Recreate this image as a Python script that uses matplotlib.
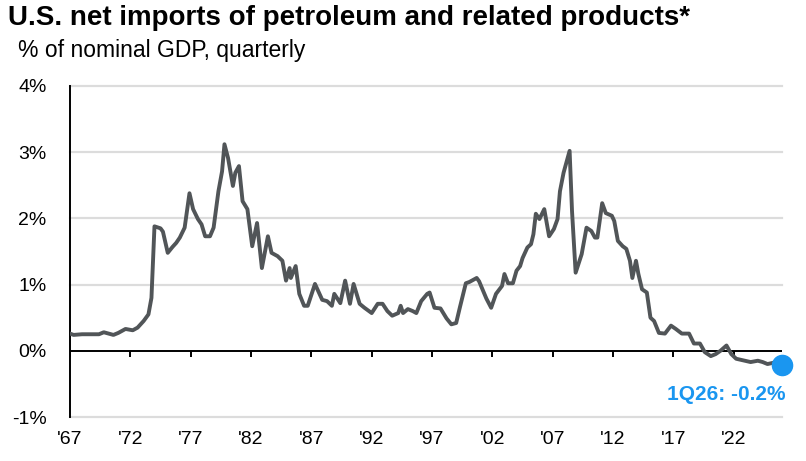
import matplotlib
matplotlib.use("Agg")
import matplotlib.pyplot as plt
import numpy as np

plt.rcParams['font.family'] = ['Liberation Sans', 'DejaVu Sans']

# ---- data (decimal year, % of nominal GDP) ----
years = [1967.0, 1967.3, 1968.0, 1968.8, 1969.4, 1969.8, 1970.2, 1970.6, 1971.0, 1971.6,
         1972.2, 1972.6, 1973.1, 1973.5, 1973.75, 1974.0, 1974.5, 1974.7, 1975.1, 1975.5,
         1975.8, 1976.1, 1976.5, 1976.9, 1977.2, 1977.6, 1977.9, 1978.2, 1978.6, 1978.9,
         1979.3, 1979.6, 1979.8, 1980.1, 1980.5, 1980.7, 1981.0, 1981.3, 1981.7, 1982.1,
         1982.5, 1982.9, 1983.4, 1983.7, 1984.2, 1984.6, 1984.9, 1985.2, 1985.3, 1985.7,
         1986.0, 1986.4, 1986.7, 1987.3, 1987.9, 1988.3, 1988.7, 1988.9, 1989.4, 1989.8,
         1990.2, 1990.5, 1991.0, 1991.4, 1992.0, 1992.5, 1992.9, 1993.3, 1993.7, 1994.2,
         1994.4, 1994.6, 1995.0, 1995.4, 1995.7, 1996.1, 1996.6, 1996.8, 1997.2, 1997.7,
         1998.2, 1998.6, 1999.0, 1999.3, 1999.8, 2000.1, 2000.7, 2000.9, 2001.5, 2001.9,
         2002.3, 2002.8, 2003.0, 2003.3, 2003.7, 2004.0, 2004.3, 2004.5, 2004.9, 2005.2,
         2005.4, 2005.6, 2005.9, 2006.3, 2006.7, 2007.1, 2007.4, 2007.6, 2007.9, 2008.4,
         2008.6, 2008.9, 2009.4, 2009.8, 2010.2, 2010.5, 2010.7, 2011.1, 2011.4, 2011.9,
         2012.1, 2012.4, 2012.8, 2013.1, 2013.4, 2013.6, 2013.9, 2014.1, 2014.4, 2014.8,
         2015.1, 2015.4, 2015.8, 2016.3, 2016.8, 2017.2, 2017.7, 2018.3, 2018.7, 2019.2,
         2019.6, 2020.1, 2020.5, 2020.9, 2021.4, 2021.8, 2022.2, 2022.9, 2023.4, 2024.0,
         2024.4, 2024.8, 2025.3, 2026.0]
pct = [0.26, 0.24, 0.25, 0.25, 0.25, 0.28, 0.26, 0.24, 0.27, 0.33,
       0.31, 0.35, 0.45, 0.55, 0.80, 1.88, 1.85, 1.80, 1.48, 1.57,
       1.63, 1.71, 1.86, 2.38, 2.14, 1.99, 1.91, 1.73, 1.73, 1.86,
       2.41, 2.71, 3.12, 2.91, 2.49, 2.69, 2.79, 2.26, 2.14, 1.58,
       1.93, 1.25, 1.73, 1.48, 1.43, 1.36, 1.06, 1.25, 1.10, 1.28,
       0.86, 0.68, 0.68, 1.01, 0.77, 0.75, 0.68, 0.86, 0.72, 1.06,
       0.71, 1.01, 0.71, 0.65, 0.57, 0.71, 0.71, 0.60, 0.53, 0.57,
       0.68, 0.57, 0.63, 0.60, 0.57, 0.75, 0.86, 0.88, 0.65, 0.64,
       0.49, 0.40, 0.42, 0.65, 1.02, 1.04, 1.10, 1.05, 0.79, 0.65,
       0.86, 0.98, 1.16, 1.02, 1.02, 1.21, 1.28, 1.40, 1.56, 1.61,
       1.76, 2.07, 1.99, 2.14, 1.73, 1.84, 1.99, 2.41, 2.69, 3.02,
       2.11, 1.18, 1.46, 1.86, 1.81, 1.71, 1.71, 2.23, 2.08, 2.04,
       1.96, 1.66, 1.58, 1.54, 1.36, 1.10, 1.36, 1.16, 0.93, 0.88,
       0.50, 0.45, 0.27, 0.26, 0.38, 0.33, 0.26, 0.26, 0.11, 0.11,
       -0.02, -0.08, -0.05, 0.00, 0.08, -0.05, -0.12, -0.15, -0.17, -0.15,
       -0.17, -0.20, -0.18, -0.22]
tick_years = [1967, 1972, 1977, 1982, 1987, 1992, 1997, 2002, 2007, 2012, 2017, 2022]
tick_labels = ["'67", "'72", "'77", "'82", "'87", "'92", "'97", "'02", "'07", "'12", "'17", "'22"]
y_ticks = [-1, 0, 1, 2, 3, 4]
y_labels = ["-1%", "0%", "1%", "2%", "3%", "4%"]
last_label = "1Q26: -0.2%"

title = "U.S. net imports of petroleum and related products*"
subtitle = "% of nominal GDP, quarterly"

W, H = 806, 461
fig = plt.figure(figsize=(W / 100, H / 100), dpi=100)
ax = fig.add_axes([70 / W, 1 - 417 / H, (782 - 70) / W, (417 - 86) / H])

line_col = '#515558'
blue = '#1a96f0'

for y in [-1, 1, 2, 3, 4]:
    ax.axhline(y, color='#dcdcdc', lw=1.6, zorder=0, clip_on=False)
ax.axhline(0, color='black', lw=1.4, zorder=1)
ax.vlines(tick_years, -0.1, 0, color='black', lw=1.4, zorder=1)

ax.plot(years, pct, color=line_col, lw=2.8, solid_joinstyle='round', zorder=3)
ax.plot([years[-1]], [pct[-1]], 'o', color=blue, ms=14.5, zorder=4, clip_on=False)
ax.text(2026.25, -0.66, last_label, color=blue, fontsize=15, fontweight='bold',
        ha='right', va='center')

ax.set_xlim(1967, 2026)
ax.set_ylim(-1, 4)
ax.set_xticks(tick_years)
ax.set_xticklabels(tick_labels)
ax.set_yticks(y_ticks)
ax.set_yticklabels(y_labels)
ax.tick_params(axis='both', length=0, labelsize=14, colors='black')
ax.tick_params(axis='x', pad=10)
ax.tick_params(axis='y', pad=17)

for s in ['top', 'right', 'bottom']:
    ax.spines[s].set_visible(False)
ax.spines['left'].set_color('black')
ax.spines['left'].set_linewidth(1.4)

fig.text(8 / W, 1 - 18 / H, title, fontsize=20, fontweight='bold', ha='left', va='center')
fig.text(18 / W, 1 - 51 / H, subtitle, fontsize=16.5, ha='left', va='center')

fig.savefig('out.png', dpi=100)
